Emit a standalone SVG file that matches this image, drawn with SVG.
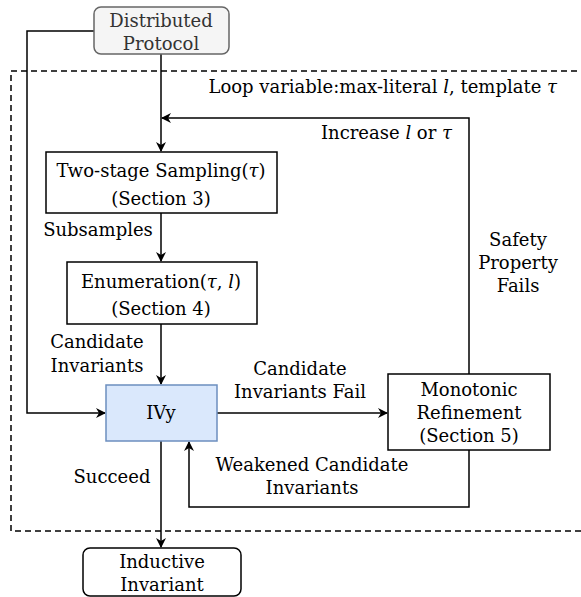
<svg xmlns="http://www.w3.org/2000/svg" width="581" height="597" viewBox="0 0 581 597">
<style>
text{font-family:'DejaVu Serif',serif;font-size:18px;fill:#000}
.c{text-anchor:middle}
.m{font-style:italic}
.g{fill:#333}
.box{fill:#fff;stroke:#000;stroke-width:1.5}
.ln{fill:none;stroke:#000;stroke-width:1.5}
</style>
<defs>
<marker id="ah" viewBox="0 0 10 10" refX="9" refY="5" markerWidth="10" markerHeight="10" markerUnits="userSpaceOnUse" orient="auto">
<path d="M0,0 L10,5 L0,10 L3,5 Z" fill="#000"/>
</marker>
</defs>
<rect x="11" y="71" width="580" height="460" fill="none" stroke="#000" stroke-width="1.5" stroke-dasharray="6,4"/>
<text x="557" y="93" text-anchor="end">Loop variable:max-literal <tspan class="m">l</tspan>, template <tspan class="m">τ</tspan></text>
<g id="connectors">
<path class="ln" d="M94,31 H27 V413 H105" marker-end="url(#ah)"/>
<path class="ln" d="M161,54 V151" marker-end="url(#ah)"/>
<path class="ln" d="M469,374 V118 H162" marker-end="url(#ah)"/>
<path class="ln" d="M161,213 V261" marker-end="url(#ah)"/>
<path class="ln" d="M161,324 V384" marker-end="url(#ah)"/>
<path class="ln" d="M217,413 H387" marker-end="url(#ah)"/>
<path class="ln" d="M469,450 V507 H189 V442" marker-end="url(#ah)"/>
<path class="ln" d="M161,441 V547" marker-end="url(#ah)"/>
<text x="452" y="139" text-anchor="end">Increase <tspan class="m">l</tspan> or <tspan class="m">τ</tspan></text>
<text x="518" y="246" class="c">Safety</text>
<text x="518" y="269" class="c">Property</text>
<text x="518" y="292" class="c">Fails</text>
<text x="98" y="236" class="c">Subsamples</text>
<text x="97" y="348" class="c">Candidate</text>
<text x="97" y="372" class="c">Invariants</text>
<text x="300" y="375" class="c">Candidate</text>
<text x="300" y="398" class="c">Invariants Fail</text>
<text x="312" y="471" class="c">Weakened Candidate</text>
<text x="312" y="494" class="c">Invariants</text>
<text x="112" y="483" class="c">Succeed</text>
</g>
<g id="distributed">
<rect x="94" y="7" width="135" height="47" rx="7" fill="#f5f5f5" stroke="#666" stroke-width="1.5"/>
<text x="161" y="27" class="c g">Distributed</text>
<text x="161" y="50" class="c g">Protocol</text>
</g>
<g id="sampling">
<rect class="box" x="46" y="152" width="231" height="61"/>
<text x="161" y="177" class="c">Two-stage Sampling(<tspan class="m">τ</tspan>)</text>
<text x="161" y="205" class="c">(Section 3)</text>
</g>
<g id="enumeration">
<rect class="box" x="67" y="262" width="190" height="62"/>
<text x="161" y="288" class="c">Enumeration(<tspan class="m">τ</tspan>, <tspan class="m">l</tspan>)</text>
<text x="161" y="315" class="c">(Section 4)</text>
</g>
<g id="ivy">
<rect x="106" y="385" width="111" height="56" fill="#dae8fc" stroke="#6c8ebf" stroke-width="1.5"/>
<text x="161" y="419" class="c">IVy</text>
</g>
<g id="refinement">
<rect class="box" x="388" y="374" width="162" height="76"/>
<text x="469" y="396" class="c">Monotonic</text>
<text x="469" y="419" class="c">Refinement</text>
<text x="469" y="442" class="c">(Section 5)</text>
</g>
<g id="inductive">
<rect class="box" x="83" y="548" width="158" height="48" rx="7"/>
<text x="162" y="568" class="c">Inductive</text>
<text x="162" y="591" class="c">Invariant</text>
</g>
</svg>
